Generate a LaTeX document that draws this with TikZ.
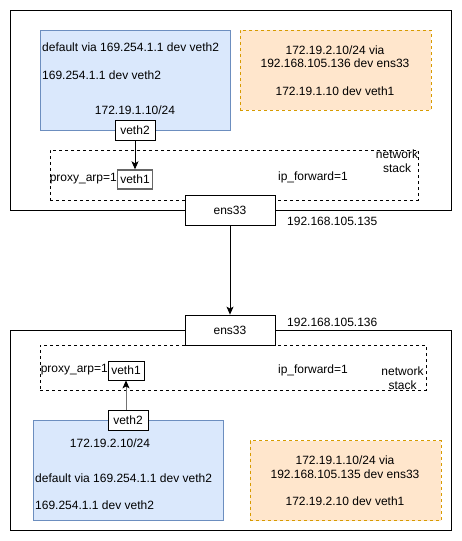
\documentclass[tikz,border=0pt]{standalone}
\usepackage{fontspec}
\setmainfont{Liberation Sans}
\usepackage{tikz}
\usetikzlibrary{arrows.meta}
\definecolor{routeblue}{HTML}{DAE8FC}
\definecolor{routeblueline}{HTML}{6C8EBF}
\definecolor{fwdorange}{HTML}{FFE6CC}
\definecolor{fwdorangeline}{HTML}{D79B00}

\begin{document}
\begin{tikzpicture}[x=1pt,y=-1pt,font=\fontsize{12}{14}\selectfont,
	hostbox/.style={draw, line width=0.8pt, inner sep=0},
	stackbox/.style={draw, line width=0.8pt, dash pattern=on 3pt off 3pt, inner sep=0},
	podbox/.style={draw=routeblueline, fill=routeblue, line width=0.8pt, inner sep=0, minimum width=190, minimum height=100},
	fwdbox/.style={draw=fwdorangeline, fill=fwdorange, line width=0.8pt, dash pattern=on 3pt off 3pt, inner sep=0, minimum width=191, minimum height=80},
	ifbox/.style={draw, fill=white, line width=0.8pt, inner sep=0},
	txt/.style={inner sep=0},
	pipe/.style={line width=0.8pt, -{Stealth[length=8pt,width=7pt,inset=2pt,color=black]}}]
\useasboundingbox[fill=white] (0,0) rectangle (461,541);

\node[hostbox, minimum width=441, minimum height=200] (hostA) at (230.5,110) {};
\node[podbox] (podA) at (135,80) {};
\node[fwdbox] (fwdA) at (335.5,70) {};
\node[txt, anchor=west] (defA) at (42,47) {default via 169.254.1.1 dev veth2};
\node[txt, anchor=west] (gwA) at (42,75) {169.254.1.1 dev veth2};
\node[txt] (ipA) at (135,110) {172.19.1.10/24};
\node[txt] (rtA1) at (335,50) {172.19.2.10/24 via};
\node[txt] (rtA2) at (335,63.5) {192.168.105.136 dev ens33};
\node[txt] (rtA3) at (335,91) {172.19.1.10 dev veth1};
\node[stackbox, minimum width=368, minimum height=50] (stackA) at (234,175) {};
\node[ifbox, minimum width=40, minimum height=20] (vethTwoA) at (135,130) {veth2};
\node[ifbox, draw=black!60, line width=1.4pt, minimum width=35, minimum height=19] (vethOneA) at (135,179.5) {veth1};
\node[txt, anchor=east] (arpA) at (117,179) {proxy\_arp=1};
\node[txt] (fwdflagA) at (313,177) {ip\_forward=1};
\node[txt, align=center] (stacklblA) at (397,161.5) {network\\stack};
\node[ifbox, minimum width=90, minimum height=30] (ensA) at (230,210) {ens33};
\node[txt, anchor=west] (addrA) at (287,221) {192.168.105.135};

\node[hostbox, minimum width=441, minimum height=200] (hostB) at (230.5,430) {};
\node[stackbox, minimum width=386, minimum height=45] (stackB) at (233,367.5) {};
\node[ifbox, minimum width=90, minimum height=30] (ensB) at (230,330) {ens33};
\node[txt, anchor=west] (addrB) at (287,322) {192.168.105.136};
\node[ifbox, minimum width=36, minimum height=19] (vethOneB) at (126,370.5) {veth1};
\node[txt, anchor=east] (arpB) at (108,370) {proxy\_arp=1};
\node[txt] (fwdflagB) at (313,370) {ip\_forward=1};
\node[txt, align=center] (stacklblB) at (402.5,378) {network\\stack};
\node[podbox] (podB) at (128,470) {};
\node[fwdbox] (fwdB) at (345.5,480.5) {};
\node[ifbox, minimum width=40, minimum height=20] (vethTwoB) at (128,420) {veth2};
\node[txt] (ipB) at (110,443) {172.19.2.10/24};
\node[txt, anchor=west] (defB) at (35,478) {default via 169.254.1.1 dev veth2};
\node[txt, anchor=west] (gwB) at (35,505) {169.254.1.1 dev veth2};
\node[txt] (rtB1) at (345,460.5) {172.19.1.10/24 via};
\node[txt] (rtB2) at (345,474) {192.168.105.135 dev ens33};
\node[txt] (rtB3) at (345,501.5) {172.19.2.10 dev veth1};

\draw[pipe] (vethTwoA) -- (vethOneA);
\draw[pipe] (ensA) -- (ensB);
\draw[pipe, draw=black!55] (vethTwoB.north -| vethOneB) -- (vethOneB);
\end{tikzpicture}
\end{document}
